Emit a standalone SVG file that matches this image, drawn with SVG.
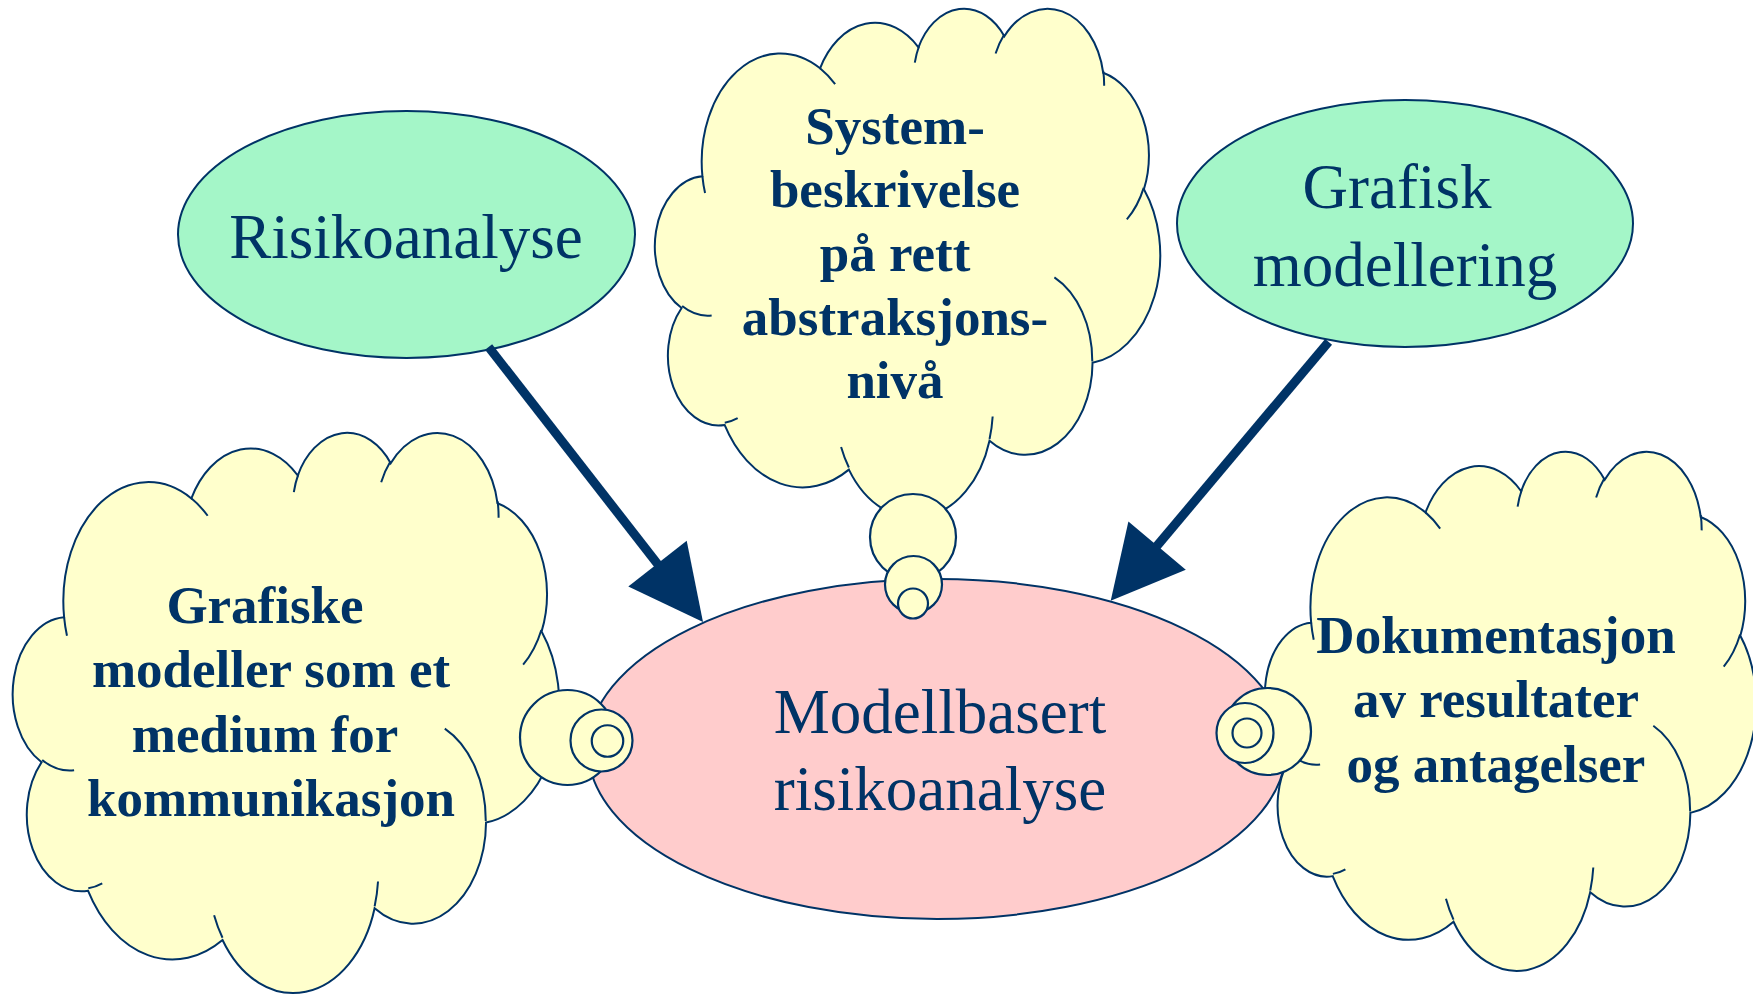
<svg xmlns="http://www.w3.org/2000/svg" xmlns:xlink="http://www.w3.org/1999/xlink" width="1753" height="995" viewBox="0 0 1753 995">
<style>
.shape{stroke:#003366;stroke-width:2}
.cloudfill{fill:#FFFFCC;stroke:#003366;stroke-width:2;vector-effect:non-scaling-stroke}
.cloudline{fill:none;stroke:#003366;stroke-width:2;vector-effect:non-scaling-stroke}
.bub{fill:#FFFFCC;stroke:#003366;stroke-width:2.2}
.green{fill:#A4F6C8}
.pink{fill:#FFCCCC}
.reg{font-family:"Liberation Serif","Times New Roman",serif;font-size:63px;fill:#003366;text-anchor:middle}
.bold{font-family:"Liberation Serif","Times New Roman",serif;font-size:53px;font-weight:bold;fill:#003366;text-anchor:middle}
.arr{stroke:#003366;stroke-width:9;fill:none}
.head{fill:#003366}
</style>
<defs>
<g id="cloud">
<path class="cloudfill" d="M3900 14370 A6753 9190 0 0 1 14005 5202 A5333 7267 0 0 1 22456 3432 A4365 5945 0 0 1 29833 2481 A4857 6595 0 0 1 38318 5576 A5333 7273 0 0 1 41818 15459 A6775 9220 0 0 1 37404 30203 A5785 7867 0 0 1 28556 36813 A6752 9215 0 0 1 16480 39264 A7720 10543 0 0 1 5805 35470 A4360 5918 0 0 1 2113 25548 A4345 5945 0 0 1 3900 14370 Z"/>
<path class="cloudline" d="M4693 26177 A4345 5945 0 0 1 2160 25380 M6928 34899 A4360 5918 0 0 1 5820 35281 M16478 39090 A6752 9215 0 0 1 15810 37350 M28827 34751 A6752 9215 0 0 1 28560 36660 M34129 22954 A5785 7867 0 0 1 37381 30090 M41798 15354 A5333 7273 0 0 1 40350 18030 M38324 5426 A4857 6595 0 0 1 38401 6690 M29078 3952 A4857 6595 0 0 1 29820 2340 M22141 4720 A4365 5945 0 0 1 22500 3330 M14000 5192 A6753 9190 0 0 1 15300 6540 M4127 15789 A6753 9190 0 0 1 3900 14371"/>
</g>
</defs>
<rect width="1753" height="995" fill="#FFFFFF"/>

<g id="node-modellbasert">
<ellipse class="shape pink" cx="937" cy="749" rx="349" ry="170"/>
<text class="reg" x="940" y="733">Modellbasert</text>
<text class="reg" x="940" y="810">risikoanalyse</text>
</g>

<g id="node-risikoanalyse">
<ellipse class="shape green" cx="406.5" cy="234.5" rx="228.5" ry="123.5"/>
<text class="reg" x="406" y="258">Risikoanalyse</text>
</g>

<g id="node-grafisk">
<ellipse class="shape green" cx="1405" cy="223.5" rx="228" ry="123.5"/>
<text class="reg" x="1397" y="208">Grafisk</text>
<text class="reg" x="1405" y="286">modellering</text>
</g>

<g id="node-systembeskrivelse">
<use xlink:href="#cloud" href="#cloud" transform="translate(657 7) scale(0.011644 0.011782)"/>
<circle class="bub" cx="913" cy="537" r="43"/>
<circle class="bub" cx="913.5" cy="584.5" r="28.5"/>
<circle class="bub" cx="913" cy="603.5" r="15"/>
<text class="bold" x="895" y="144">System-</text>
<text class="bold" x="895" y="207">beskrivelse</text>
<text class="bold" x="895" y="271">på rett</text>
<text class="bold" x="895" y="335">abstraksjons-</text>
<text class="bold" x="895" y="398">nivå</text>
</g>

<g id="node-grafiske-modeller">
<use xlink:href="#cloud" href="#cloud" transform="translate(15 431) scale(0.012593 0.012963)"/>
<circle class="bub" cx="567.5" cy="737.5" r="47.5"/>
<circle class="bub" cx="601.5" cy="740.5" r="31"/>
<circle class="bub" cx="607.5" cy="741" r="15.75"/>
<text class="bold" x="265" y="623">Grafiske</text>
<text class="bold" x="271" y="687">modeller som et</text>
<text class="bold" x="265" y="752">medium for</text>
<text class="bold" x="271" y="816">kommunikasjon</text>
</g>

<g id="node-dokumentasjon">
<use xlink:href="#cloud" href="#cloud" transform="translate(1267 450) scale(0.011319 0.012014)"/>
<circle class="bub" cx="1267.5" cy="731.5" r="43.5"/>
<ellipse class="bub" cx="1245" cy="733" rx="28.5" ry="30"/>
<circle class="bub" cx="1247" cy="733" r="14.5"/>
<text class="bold" x="1496" y="653">Dokumentasjon</text>
<text class="bold" x="1496" y="717">av resultater</text>
<text class="bold" x="1496" y="782">og antagelser</text>
</g>

<g id="connectors">
<line class="arr" x1="488.6" y1="347" x2="663" y2="571"/>
<polygon class="head" points="703,622 686.7,540.8 628.3,586.4"/>
<line class="arr" x1="1328.6" y1="341.8" x2="1151" y2="553"/>
<polygon class="head" points="1110.7,600.7 1185.8,569.7 1128.4,521.5"/>
</g>
</svg>
